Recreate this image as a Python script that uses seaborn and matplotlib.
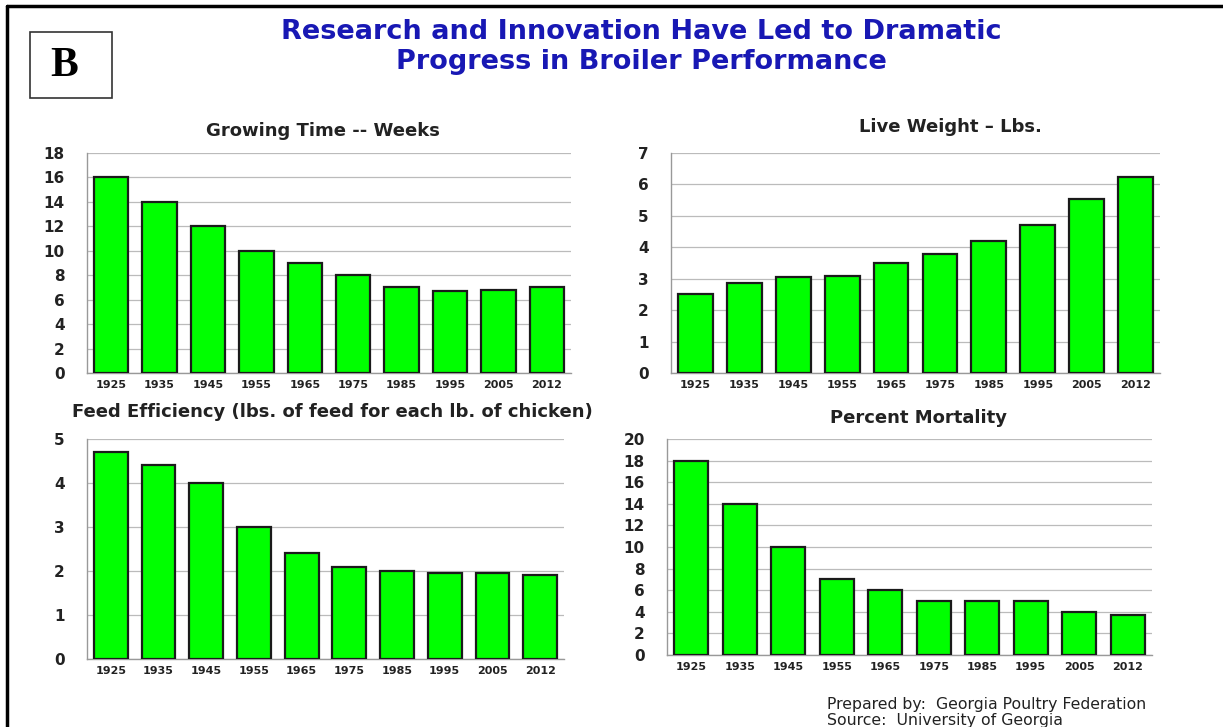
import matplotlib
matplotlib.use('Agg')
import matplotlib.pyplot as plt
import seaborn as sns
import numpy as np

# data
years = ['1925', '1935', '1945', '1955', '1965', '1975', '1985', '1995', '2005', '2012']
growing_weeks = [16, 14, 12, 10, 9, 8, 7, 6.7, 6.8, 7]
live_weight = [2.5, 2.85, 3.05, 3.1, 3.5, 3.8, 4.2, 4.7, 5.55, 6.25]
feed_eff = [4.7, 4.4, 4.0, 3.0, 2.4, 2.1, 2.0, 1.95, 1.95, 1.9]
mortality = [18, 14, 10, 7, 6, 5, 5, 5, 4, 3.7]

sns.set_theme(style='white')
plt.rcParams['font.family'] = ['DejaVu Sans']

W, H = 1223, 727
fig = plt.figure(figsize=(W / 100, H / 100), dpi=100)
fig.patch.set_facecolor('white')


def px_axes(left, right, top, bottom):
    return fig.add_axes([left / W, 1 - bottom / H, (right - left) / W, (bottom - top) / H])


def panel(ax, vals, ymax, step):
    sns.barplot(x=years, y=vals, ax=ax, color='#00ff00', saturation=1,
                edgecolor='#1a1a1a', linewidth=1.6, width=0.71, zorder=3)
    ax.set_xlim(-0.5, len(years) - 0.5)
    ax.set_ylim(0, ymax)
    ax.set_yticks(np.arange(0, ymax + 0.01, step))
    ax.set_yticklabels([f'{int(v)}' for v in np.arange(0, ymax + 0.01, step)],
                       fontsize=11, fontweight='bold', color='#222222')
    ax.set_xticks(range(len(years)))
    ax.set_xticklabels(years, fontsize=8, fontweight='bold', color='#222222')
    ax.set_xticks(np.arange(-0.5, len(years)), minor=True)
    ax.tick_params(axis='x', which='major', length=0, pad=5)
    ax.tick_params(axis='x', which='minor', length=3, color='#999999', direction='out')
    ax.tick_params(axis='y', length=4, color='#999999', direction='out', pad=12)
    ax.set_xlabel('')
    ax.set_ylabel('')
    ax.grid(axis='y', color='#bbbbbb', linewidth=0.9, zorder=0)
    ax.set_axisbelow(True)
    for s in ['top', 'right']:
        ax.spines[s].set_visible(False)
    for s in ['left', 'bottom']:
        ax.spines[s].set_color('#999999')
        ax.spines[s].set_linewidth(1)
    ax.set_facecolor('white')


ax1 = px_axes(87, 571, 153, 373)
panel(ax1, growing_weeks, 18, 2)
ax2 = px_axes(671, 1160, 153, 373)
panel(ax2, live_weight, 7, 1)
ax3 = px_axes(87, 564, 439, 659)
panel(ax3, feed_eff, 5, 1)
ax4 = px_axes(667, 1152, 439, 655)
panel(ax4, mortality, 20, 2)


def ftext(x, y, s, **kw):
    fig.text(x / W, 1 - y / H, s, **kw)


ftext(641, 32, 'Research and Innovation Have Led to Dramatic', ha='center', va='center',
      fontsize=19.5, fontweight='bold', color='#1818b4')
ftext(641, 62, 'Progress in Broiler Performance', ha='center', va='center',
      fontsize=19.5, fontweight='bold', color='#1818b4')

ftext(323, 131, 'Growing Time -- Weeks', ha='center', va='center',
      fontsize=13, fontweight='bold', color='#222222')
ftext(950, 127, 'Live Weight \u2013 Lbs.', ha='center', va='center',
      fontsize=13, fontweight='bold', color='#222222')
ftext(332, 412, 'Feed Efficiency (lbs. of feed for each lb. of chicken)', ha='center', va='center',
      fontsize=13, fontweight='bold', color='#222222')
ftext(918, 418, 'Percent Mortality', ha='center', va='center',
      fontsize=13, fontweight='bold', color='#222222')

ftext(827, 704, 'Prepared by:  Georgia Poultry Federation', ha='left', va='center',
      fontsize=11.3, color='#222222')
ftext(827, 720, 'Source:  University of Georgia', ha='left', va='center',
      fontsize=11.3, color='#222222')

# "B" label box
box = plt.Rectangle((30 / W, 1 - 98 / H), 82 / W, 66 / H, transform=fig.transFigure,
                    facecolor='white', edgecolor='#333333', linewidth=1.2)
fig.add_artist(box)
ftext(64, 66, 'B', ha='center', va='center', fontsize=30, fontweight='bold',
      family=['Liberation Serif', 'DejaVu Serif'], color='black')

# outer frame lines (top and left)
fig.add_artist(plt.Line2D([7 / W, 1], [1 - 6 / H, 1 - 6 / H], transform=fig.transFigure,
                          color='black', linewidth=2.5))
fig.add_artist(plt.Line2D([7 / W, 7 / W], [0, 1 - 6 / H], transform=fig.transFigure,
                          color='black', linewidth=2.5))

fig.savefig('out.png', dpi=100, facecolor='white')
